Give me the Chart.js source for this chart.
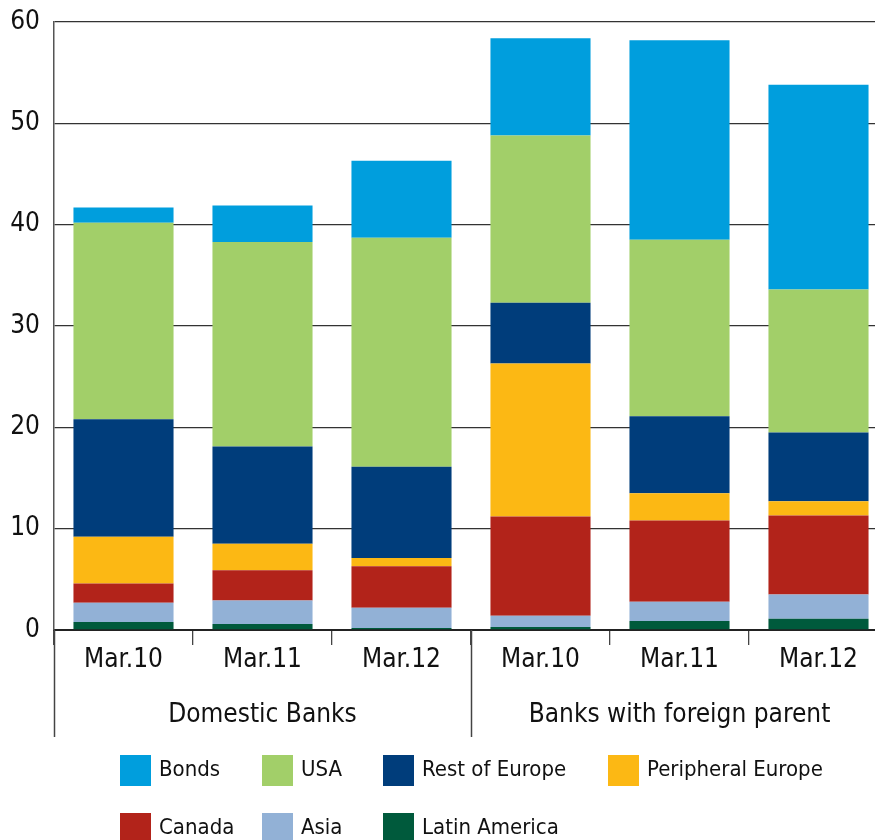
<!DOCTYPE html>
<html>
<head>
<meta charset="utf-8">
<title>Bank exposures</title>
<script src="https://cdn.jsdelivr.net/npm/chart.js@4/dist/chart.umd.min.js"></script>
<style>
  html, body { margin: 0; padding: 0; background: #fff; overflow: hidden; }
  #wrap { width: 875px; height: 840px; overflow: hidden; }
</style>
</head>
<body>
<div id="wrap"><canvas id="chart" width="890" height="840"></canvas></div>
<script>
// categories
const periods = ['Mar.10', 'Mar.11', 'Mar.12', 'Mar.10', 'Mar.11', 'Mar.12'];
const groups = ['Domestic Banks', 'Banks with foreign parent'];
const yTicks = [0, 10, 20, 30, 40, 50, 60];

// series values, bottom of stack first
const latinAmerica = [0.8, 0.6, 0.2, 0.3, 0.9, 1.1];
const asia = [1.9, 2.3, 2.0, 1.1, 1.9, 2.4];
const canada = [1.9, 3.0, 4.1, 9.8, 8.0, 7.8];
const peripheralEurope = [4.6, 2.6, 0.8, 15.1, 2.7, 1.4];
const restOfEurope = [11.6, 9.6, 9.0, 6.0, 7.6, 6.8];
const usa = [19.4, 20.2, 22.6, 16.5, 17.4, 14.1];
const bonds = [1.5, 3.6, 7.6, 9.6, 19.7, 20.2];

const FONT = "'DejaVu Sans Condensed', 'Liberation Sans Narrow', sans-serif";
const INK = '#111';

// legend in the reference is laid out as a small grid below the axes
const customLegend = {
    id: 'customLegend',
    afterDraw(chart) {
        const ctx = chart.ctx;
        const bottom = chart.scales.x2.bottom;
        const cols = [120, 262, 383, 608];
        const rows = [bottom + 18, bottom + 76];
        const items = chart.data.datasets.slice().reverse();
        ctx.save();
        ctx.font = '22px ' + FONT;
        ctx.textBaseline = 'middle';
        ctx.textAlign = 'left';
        items.forEach((ds, i) => {
            const x = cols[i % 4];
            const y = rows[Math.floor(i / 4)];
            ctx.fillStyle = ds.backgroundColor;
            ctx.fillRect(x, y, 31, 31);
            ctx.fillStyle = INK;
            ctx.fillText(ds.label, x + 39, y + 15);
        });
        ctx.restore();
    }
};

// long separators: left axis and the line between the two bank groups
const groupLines = {
    id: 'groupLines',
    afterDraw(chart) {
        const ctx = chart.ctx;
        const g = chart.scales.x2;
        const top = chart.chartArea.bottom;
        ctx.save();
        ctx.strokeStyle = '#444';
        ctx.lineWidth = 1.5;
        [-0.5, 0.5].forEach(v => {
            const px = Math.round(g.getPixelForValue(v)) + 0.5;
            ctx.beginPath();
            ctx.moveTo(px, top);
            ctx.lineTo(px, g.bottom);
            ctx.stroke();
        });
        ctx.restore();
    }
};

const ctx = document.getElementById('chart').getContext('2d');

new Chart(ctx, {
    type: 'bar',
    data: {
        labels: periods,
        datasets: [
            { label: 'Latin America', data: latinAmerica, backgroundColor: '#005A3C' },
            { label: 'Asia', data: asia, backgroundColor: '#92B1D6' },
            { label: 'Canada', data: canada, backgroundColor: '#B2231A' },
            { label: 'Peripheral Europe', data: peripheralEurope, backgroundColor: '#FCB814' },
            { label: 'Rest of Europe', data: restOfEurope, backgroundColor: '#003D7B' },
            { label: 'USA', data: usa, backgroundColor: '#A2CF69' },
            { label: 'Bonds', data: bonds, backgroundColor: '#009EDD' }
        ]
    },
    options: {
        responsive: false,
        animation: false,
        layout: { padding: { top: 22, right: 2, bottom: 103, left: 0 } },
        datasets: {
            bar: { barPercentage: 0.72, categoryPercentage: 1, borderWidth: 0 }
        },
        plugins: {
            legend: { display: false },
            tooltip: { enabled: false }
        },
        scales: {
            x: {
                stacked: true,
                offset: true,
                weight: 0,
                grid: {
                    offset: true,
                    drawOnChartArea: false,
                    tickLength: 15,
                    color: '#444',
                    lineWidth: 1.3
                },
                border: { display: true, color: '#222', width: 2 },
                ticks: {
                    color: INK,
                    padding: 2,
                    font: { family: FONT, size: 26, lineHeight: 1 }
                },
                afterFit: s => { s.height = 50; }
            },
            x2: {
                type: 'category',
                position: 'bottom',
                labels: groups,
                offset: true,
                weight: 1,
                grid: { display: false, drawTicks: false },
                border: { display: false },
                ticks: {
                    color: INK,
                    padding: 22,
                    font: { family: FONT, size: 26, lineHeight: 1 }
                },
                afterFit: s => { s.height = 57; }
            },
            y: {
                stacked: true,
                min: 0,
                max: 60,
                afterBuildTicks: s => { s.ticks = yTicks.map(v => ({ value: v })); },
                grid: { color: '#333', lineWidth: 1.3, drawTicks: false },
                border: { display: true, color: '#555', width: 1.5 },
                ticks: {
                    color: INK,
                    padding: 14,
                    font: { family: FONT, size: 26, lineHeight: 1 }
                },
                afterFit: s => {
                    s.width = 54;
                    s.paddingTop = 0;
                    s.paddingBottom = 0;
                }
            }
        }
    },
    plugins: [groupLines, customLegend]
});
</script>
</body>
</html>
